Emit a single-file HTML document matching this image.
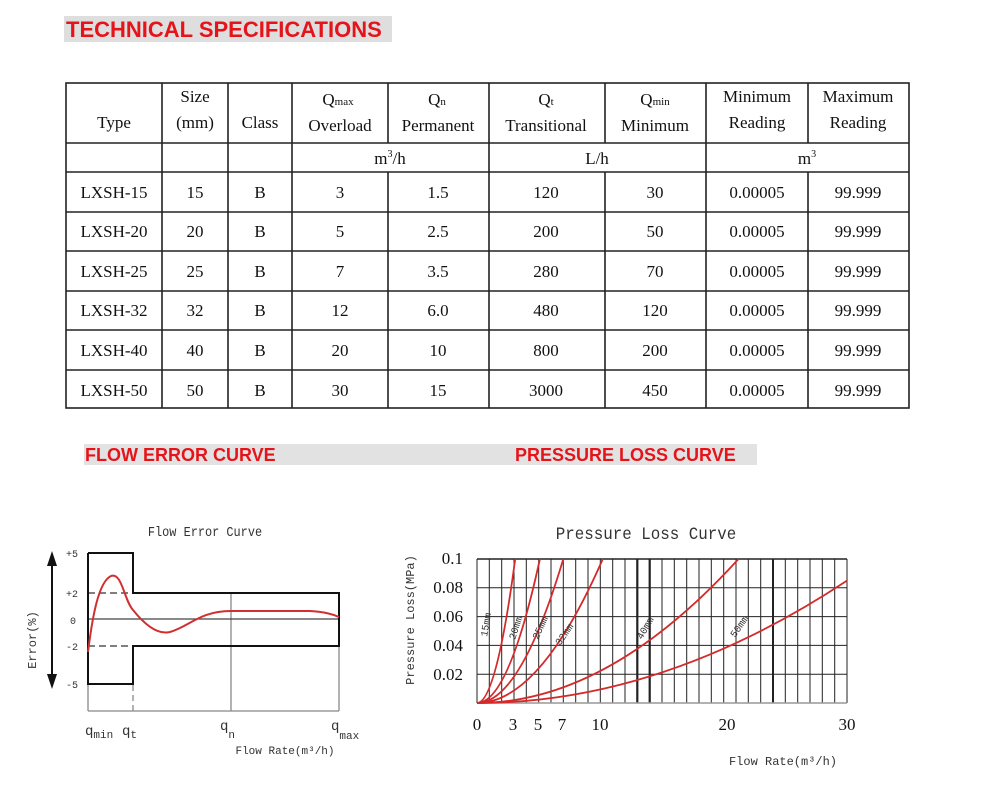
<!DOCTYPE html>
<html><head><meta charset="utf-8"><style>
body{margin:0;background:#fff;width:1000px;height:795px;overflow:hidden}
svg{display:block}
.s{font-family:"Liberation Serif",serif;font-size:17px;fill:#111;text-anchor:middle}
.m{font-family:"Liberation Mono",monospace;fill:#333}
.h{font-family:"Liberation Sans",sans-serif;font-weight:bold;fill:#e5141b}
</style></head><body>
<svg width="1000" height="795" viewBox="0 0 1000 795">
<rect x="64" y="16" width="328" height="26" fill="#dedede"/>
<text x="66" y="37" class="h" font-size="22">TECHNICAL SPECIFICATIONS</text>
<rect x="84" y="444" width="673" height="21" fill="#e2e2e2"/>
<text x="85" y="461" class="h" font-size="18">FLOW ERROR CURVE</text>
<text x="515" y="461" class="h" font-size="18">PRESSURE LOSS CURVE</text>

<!-- table -->
<g stroke="#222" stroke-width="1.6" fill="none">
<rect x="66" y="83" width="843" height="325"/>
<line x1="66" y1="143" x2="909" y2="143"/><line x1="66" y1="172" x2="909" y2="172"/>
<line x1="66" y1="212" x2="909" y2="212"/><line x1="66" y1="251" x2="909" y2="251"/>
<line x1="66" y1="291" x2="909" y2="291"/><line x1="66" y1="330" x2="909" y2="330"/>
<line x1="66" y1="370" x2="909" y2="370"/>
<line x1="162" y1="83" x2="162" y2="408"/><line x1="228" y1="83" x2="228" y2="408"/>
<line x1="292" y1="83" x2="292" y2="408"/><line x1="489" y1="83" x2="489" y2="408"/>
<line x1="706" y1="83" x2="706" y2="408"/>
<line x1="388" y1="83" x2="388" y2="143"/><line x1="388" y1="172" x2="388" y2="408"/>
<line x1="605" y1="83" x2="605" y2="143"/><line x1="605" y1="172" x2="605" y2="408"/>
<line x1="808" y1="83" x2="808" y2="143"/><line x1="808" y1="172" x2="808" y2="408"/>
</g>
<g class="s">
<text x="114" y="128">Type</text>
<text x="195" y="102">Size</text><text x="195" y="128">(mm)</text>
<text x="260" y="128">Class</text>
<text x="338" y="105">Q<tspan font-size="11">max</tspan></text><text x="340" y="131">Overload</text>
<text x="437" y="105">Q<tspan font-size="11">n</tspan></text><text x="438" y="131">Permanent</text>
<text x="546" y="105">Q<tspan font-size="11">t</tspan></text><text x="546" y="131">Transitional</text>
<text x="655" y="105">Q<tspan font-size="11">min</tspan></text><text x="655" y="131">Minimum</text>
<text x="757" y="102">Minimum</text><text x="757" y="128">Reading</text>
<text x="858" y="102">Maximum</text><text x="858" y="128">Reading</text>
<text x="390" y="164">m<tspan font-size="10" dy="-7">3</tspan><tspan dy="7">/h</tspan></text>
<text x="597" y="164">L/h</text>
<text x="807" y="164">m<tspan font-size="10" dy="-7">3</tspan></text>
</g>
<g class="s">
<g transform="translate(0,198)"><text x="114">LXSH-15</text><text x="195">15</text><text x="260">B</text><text x="340">3</text><text x="438">1.5</text><text x="546">120</text><text x="655">30</text><text x="757">0.00005</text><text x="858">99.999</text></g>
<g transform="translate(0,237)"><text x="114">LXSH-20</text><text x="195">20</text><text x="260">B</text><text x="340">5</text><text x="438">2.5</text><text x="546">200</text><text x="655">50</text><text x="757">0.00005</text><text x="858">99.999</text></g>
<g transform="translate(0,277)"><text x="114">LXSH-25</text><text x="195">25</text><text x="260">B</text><text x="340">7</text><text x="438">3.5</text><text x="546">280</text><text x="655">70</text><text x="757">0.00005</text><text x="858">99.999</text></g>
<g transform="translate(0,316)"><text x="114">LXSH-32</text><text x="195">32</text><text x="260">B</text><text x="340">12</text><text x="438">6.0</text><text x="546">480</text><text x="655">120</text><text x="757">0.00005</text><text x="858">99.999</text></g>
<g transform="translate(0,356)"><text x="114">LXSH-40</text><text x="195">40</text><text x="260">B</text><text x="340">20</text><text x="438">10</text><text x="546">800</text><text x="655">200</text><text x="757">0.00005</text><text x="858">99.999</text></g>
<g transform="translate(0,396)"><text x="114">LXSH-50</text><text x="195">50</text><text x="260">B</text><text x="340">30</text><text x="438">15</text><text x="546">3000</text><text x="655">450</text><text x="757">0.00005</text><text x="858">99.999</text></g>
</g>

<!-- flow error curve -->
<text x="205" y="536" class="m" font-size="14" text-anchor="middle" transform="translate(205,0) scale(0.85,1) translate(-205,0)">Flow Error Curve</text>
<g stroke="#888" stroke-width="1.3" fill="none">
<line x1="88" y1="553" x2="88" y2="711"/><line x1="88" y1="711" x2="339" y2="711"/>
<line x1="231" y1="593" x2="231" y2="711"/><line x1="339" y1="593" x2="339" y2="711"/>
<line x1="133" y1="645" x2="133" y2="711" stroke-dasharray="6,4"/>
<line x1="88" y1="619" x2="339" y2="619" stroke="#444"/>
</g>
<g stroke="#333" stroke-width="1.2" stroke-dasharray="7,4"><line x1="88" y1="593" x2="133" y2="593"/><line x1="88" y1="646" x2="133" y2="646"/></g>
<g stroke="#111" stroke-width="2" fill="none">
<polyline points="88,553 133,553 133,593 339,593 339,646 133,646 133,684 88,684 88,553"/>
</g>
<path d="M88,652 C92,620 98,582 111,576 C122,572 124,600 133,610 C145,625 158,635 170,632 C190,626 200,611 231,611 L310,611 C325,612 332,614 339,617" stroke="#d03030" stroke-width="2" fill="none"/>
<line x1="52" y1="558" x2="52" y2="682" stroke="#111" stroke-width="2"/>
<polygon points="52,551 47,566 57,566" fill="#111"/><polygon points="52,689 47,674 57,674" fill="#111"/>
<g class="m" font-size="10" text-anchor="middle"><text x="72" y="557">+5</text><text x="72" y="597">+2</text><text x="73" y="624">0</text><text x="72" y="650">-2</text><text x="72" y="688">-5</text></g>
<text x="36" y="640" class="m" font-size="12" text-anchor="middle" transform="rotate(-90,36,640)">Error(%)</text>
<g class="m" font-size="14"><text x="85" y="735">q<tspan font-size="11" dy="3">min</tspan></text><text x="122" y="735">q<tspan font-size="11" dy="3">t</tspan></text><text x="220" y="730">q<tspan font-size="11" dy="8">n</tspan></text><text x="331" y="730">q<tspan font-size="11" dy="9">max</tspan></text></g>
<text x="285" y="754" class="m" font-size="11" text-anchor="middle">Flow Rate(m³/h)</text>

<!-- pressure loss -->
<text x="646" y="539" class="m" font-size="18" text-anchor="middle" transform="translate(646,0) scale(0.88,1) translate(-646,0)">Pressure Loss Curve</text>
<g stroke="#222" stroke-width="1">
<line x1="477.0" y1="559" x2="477.0" y2="703"/><line x1="489.3" y1="559" x2="489.3" y2="703"/><line x1="501.7" y1="559" x2="501.7" y2="703"/><line x1="514.0" y1="559" x2="514.0" y2="703"/><line x1="526.3" y1="559" x2="526.3" y2="703"/><line x1="538.7" y1="559" x2="538.7" y2="703"/><line x1="551.0" y1="559" x2="551.0" y2="703"/><line x1="563.3" y1="559" x2="563.3" y2="703"/><line x1="575.7" y1="559" x2="575.7" y2="703"/><line x1="588.0" y1="559" x2="588.0" y2="703"/><line x1="600.3" y1="559" x2="600.3" y2="703"/><line x1="612.7" y1="559" x2="612.7" y2="703"/><line x1="625.0" y1="559" x2="625.0" y2="703"/><line x1="637.3" y1="559" x2="637.3" y2="703" stroke-width="2.2"/><line x1="649.7" y1="559" x2="649.7" y2="703" stroke-width="2.2"/><line x1="662.0" y1="559" x2="662.0" y2="703"/><line x1="674.3" y1="559" x2="674.3" y2="703"/><line x1="686.7" y1="559" x2="686.7" y2="703"/><line x1="699.0" y1="559" x2="699.0" y2="703"/><line x1="711.3" y1="559" x2="711.3" y2="703"/><line x1="723.7" y1="559" x2="723.7" y2="703"/><line x1="736.0" y1="559" x2="736.0" y2="703"/><line x1="748.3" y1="559" x2="748.3" y2="703"/><line x1="760.7" y1="559" x2="760.7" y2="703"/><line x1="773.0" y1="559" x2="773.0" y2="703" stroke-width="2"/><line x1="785.3" y1="559" x2="785.3" y2="703"/><line x1="797.7" y1="559" x2="797.7" y2="703"/><line x1="810.0" y1="559" x2="810.0" y2="703"/><line x1="822.3" y1="559" x2="822.3" y2="703"/><line x1="834.7" y1="559" x2="834.7" y2="703"/><line x1="847.0" y1="559" x2="847.0" y2="703"/>
<line x1="477" y1="559" x2="847" y2="559" stroke-width="1.5"/><line x1="477" y1="587.8" x2="847" y2="587.8"/><line x1="477" y1="616.6" x2="847" y2="616.6"/><line x1="477" y1="645.4" x2="847" y2="645.4"/><line x1="477" y1="674.2" x2="847" y2="674.2"/><line x1="477" y1="703" x2="847" y2="703" stroke="#999" stroke-width="1.5"/>
</g>
<g stroke="#d42a2a" stroke-width="1.8" fill="none">
<path d="M477,703 Q496.1,703 515.2,559"/><path d="M477,703 Q508.5,703 539.9,559"/><path d="M477,703 Q520.2,703 563.3,559"/><path d="M477,703 Q539.9,703 602.8,559"/><path d="M477,703 Q607.7,703 738.5,559"/><path d="M477,703 Q662,703 847,580.6"/>
</g>
<g class="m" font-size="10" fill="#222">
<text transform="translate(487,637) rotate(-80)">15mm</text>
<text transform="translate(515,640) rotate(-72)">20mm</text>
<text transform="translate(538,640) rotate(-65)">25mm</text>
<text transform="translate(560,646) rotate(-55)">32mm</text>
<text transform="translate(642,640) rotate(-60)">40mm</text>
<text transform="translate(735,638) rotate(-55)">50mm</text>
</g>
<g class="s" font-size="14" style="text-anchor:end"><text x="463" y="564">0.1</text><text x="463" y="593">0.08</text><text x="463" y="622">0.06</text><text x="463" y="651">0.04</text><text x="463" y="680">0.02</text></g>
<g class="s" font-size="14"><text x="477" y="730">0</text><text x="513" y="730">3</text><text x="538" y="730">5</text><text x="562" y="730">7</text><text x="600" y="730">10</text><text x="727" y="730">20</text><text x="847" y="730">30</text></g>
<text x="414" y="620" class="m" font-size="12" text-anchor="middle" transform="rotate(-90,414,620)">Pressure Loss(MPa)</text>
<text x="783" y="765" class="m" font-size="12" text-anchor="middle">Flow Rate(m³/h)</text>
</svg>
</body></html>
